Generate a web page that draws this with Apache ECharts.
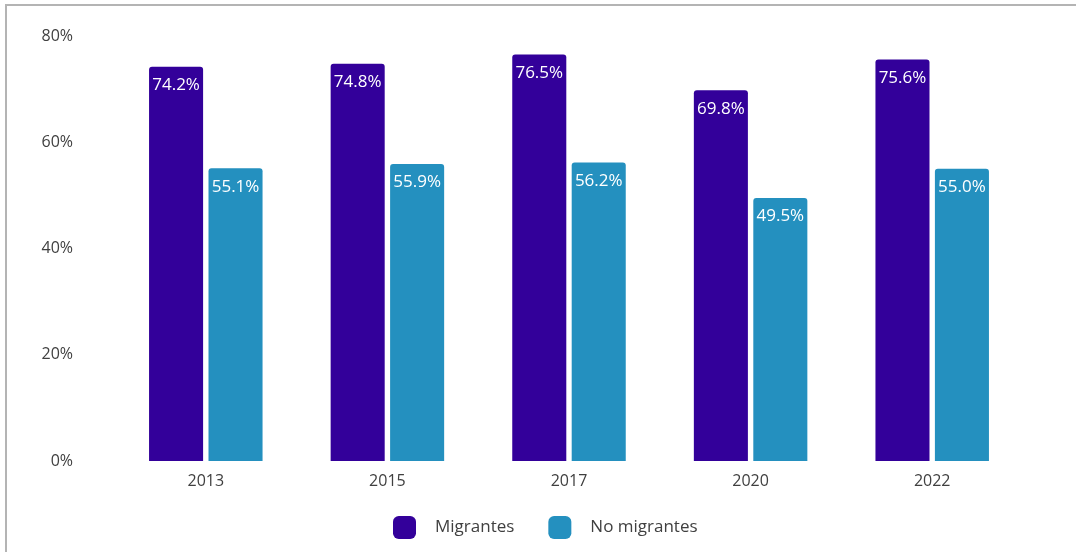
<!DOCTYPE html>
<html>
<head>
<meta charset="utf-8">
<script src="https://cdn.jsdelivr.net/npm/echarts@6/dist/echarts.min.js"></script>
<style>
html,body{margin:0;padding:0;background:#fff;}
#frame{position:absolute;left:5px;top:4px;width:1071px;height:548px;border-top:2px solid #b4b4b4;border-left:2px solid #b4b4b4;}
#chart{position:absolute;left:0;top:0;width:1076px;height:552px;}
</style>
</head>
<body>
<div id="frame"></div>
<div id="chart"></div>
<script>
var categories = ['2013', '2015', '2017', '2020', '2022'];
var migrantes = [74.2, 74.8, 76.5, 69.8, 75.6];
var noMigrantes = [55.1, 55.9, 56.2, 49.5, 55.0];
var yTicks = [0, 20, 40, 60, 80];

var chart = echarts.init(document.getElementById('chart'));
var font = '"Open Sans", "Noto Sans", sans-serif';
function lbl() {
  return {
    show: true,
    position: 'insideTop',
    distance: 10,
    color: '#fff',
    fontSize: 17,
    fontFamily: font,
    formatter: function (p) { return p.value.toFixed(1) + '%'; }
  };
}
chart.setOption({
  animation: false,
  textStyle: { fontFamily: font },
  grid: { left: 115, right: 53, top: 36, bottom: 91 },
  legend: {
    left: 388, top: 511,
    itemWidth: 23, itemHeight: 23, itemGap: 34,
    icon: 'roundRect',
    textStyle: { fontSize: 17, color: '#404040', fontFamily: font, padding: [0, 0, 0, 14] },
    data: ['Migrantes', 'No migrantes']
  },
  xAxis: {
    type: 'category',
    data: categories,
    axisLine: { show: false },
    axisTick: { show: false },
    axisLabel: { fontSize: 16, color: '#404040', margin: 12, fontFamily: font }
  },
  yAxis: {
    type: 'value',
    min: yTicks[0], max: yTicks[yTicks.length - 1], interval: 20,
    splitLine: { show: false },
    axisLine: { show: false },
    axisTick: { show: false },
    axisLabel: { fontSize: 16, color: '#404040', margin: 42, formatter: '{value}%', fontFamily: font }
  },
  series: [
    {
      name: 'Migrantes', type: 'bar', data: migrantes,
      barGap: '10%', barCategoryGap: '37.5%',
      itemStyle: { color: '#33009a', borderRadius: [3, 3, 0, 0] },
      label: lbl()
    },
    {
      name: 'No migrantes', type: 'bar', data: noMigrantes,
      itemStyle: { color: '#2490bf', borderRadius: [3, 3, 0, 0] },
      label: lbl()
    }
  ]
});
</script>
</body>
</html>
